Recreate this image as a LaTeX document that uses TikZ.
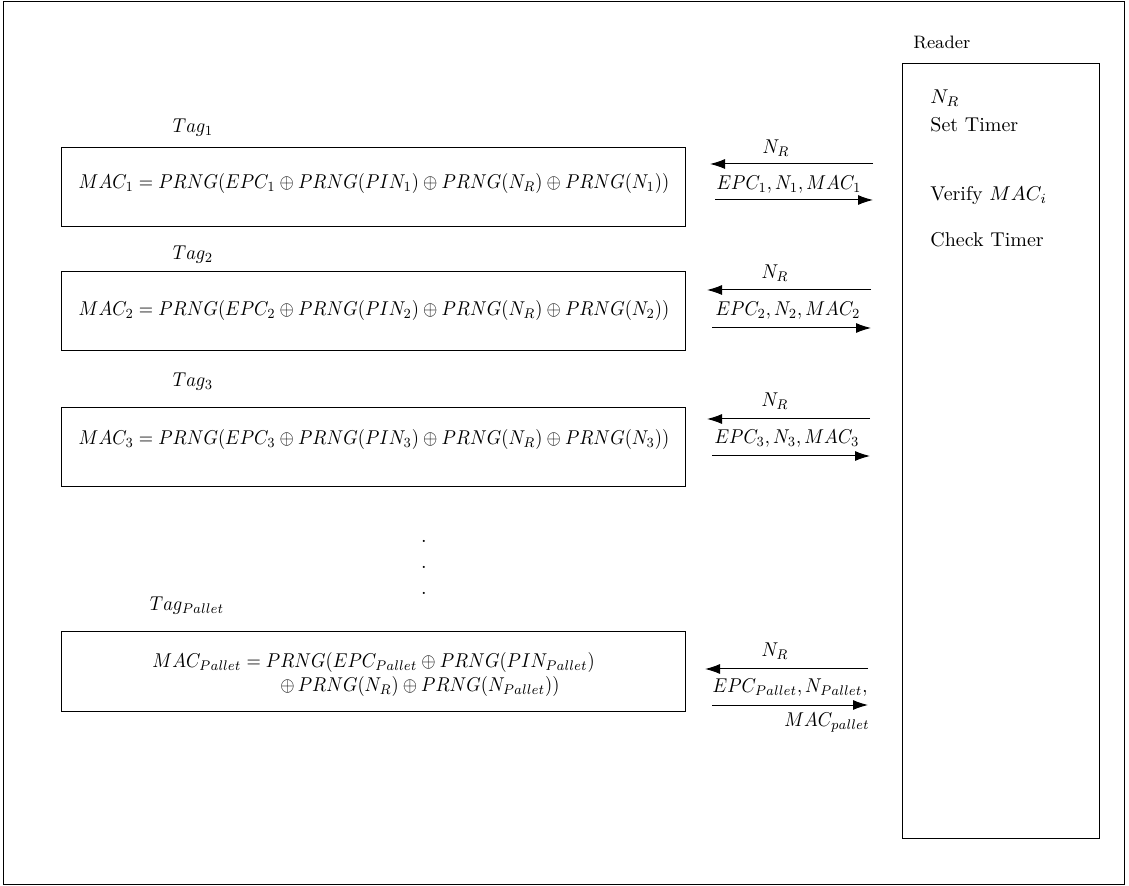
\documentclass[tikz,border=0pt]{standalone}
\usepackage{graphicx}
\usetikzlibrary{arrows.meta}
\newcommand{\nrw}[1]{\scalebox{0.92}[1]{#1}}
\begin{document}
\begin{tikzpicture}[x=0.5pt,y=-0.5pt,
  box/.style={draw,line width=0.5pt},
  msg/.style={draw,line width=0.5pt,-{Latex[length=7.5pt,width=5pt]}},
  lbl/.style={inner sep=0pt},
  mlbl/.style={inner sep=0pt}]
\useasboundingbox (0,0) rectangle (1129,886);
\draw[line width=0.5pt] (3,2) rectangle (1124,884);
% reader
\node[lbl,anchor=west,font=\fontsize{9}{11}\selectfont] (rd) at (913,42) {Reader};
\draw[box] (902,64) rectangle (1099,838);
\node[lbl,anchor=west] (r1) at (930,98) {$N_R$};
\node[lbl,anchor=west] (r2) at (930,125) {Set Timer};
\node[lbl,anchor=west] (r3) at (930,196) {Verify $MAC_i$};
\node[lbl,anchor=west] (r4) at (930,240) {Check Timer};
% tags
\node[mlbl] (t1) at (193,128) {\nrw{$Tag_1$}};
\draw[box] (61,148) rectangle (685,227);
\node[mlbl] (f1) at (374,184) {\nrw{$MAC_1 = PRNG(EPC_1 \oplus PRNG(PIN_1) \oplus PRNG(N_R) \oplus PRNG(N_1))$}};
\node[mlbl] (t2) at (193,255) {\nrw{$Tag_2$}};
\draw[box] (61,272) rectangle (685,351);
\node[mlbl] (f2) at (374,311) {\nrw{$MAC_2 = PRNG(EPC_2 \oplus PRNG(PIN_2) \oplus PRNG(N_R) \oplus PRNG(N_2))$}};
\node[mlbl] (t3) at (193,382) {\nrw{$Tag_3$}};
\draw[box] (61,408) rectangle (685,487);
\node[mlbl] (f3) at (374,440) {\nrw{$MAC_3 = PRNG(EPC_3 \oplus PRNG(PIN_3) \oplus PRNG(N_R) \oplus PRNG(N_3))$}};
\node[lbl] (d1) at (424,541) {.};
\node[lbl] (d2) at (424,567) {.};
\node[lbl] (d3) at (424,593) {.};
\node[mlbl] (t4) at (187,606) {\nrw{$Tag_{Pallet}$}};
\draw[box] (61,632) rectangle (685,711);
\node[mlbl,anchor=west] (f4) at (152,675) {\nrw{\begin{tabular}{@{}l@{}}$MAC_{Pallet} = PRNG(EPC_{Pallet} \oplus PRNG(PIN_{Pallet})$\\ \hspace{69.6pt}$\oplus\, PRNG(N_R) \oplus PRNG(N_{Pallet}))$\end{tabular}}};
% messages
\coordinate (a1s) at (873,164); \coordinate (a1e) at (710,164);
\draw[msg] (a1s) -- (a1e);
\node[mlbl] (n1) at (776,148) {\nrw{$N_R$}};
\coordinate (b1s) at (715,200); \coordinate (b1e) at (873,200);
\draw[msg] (b1s) -- (b1e);
\node[mlbl] (m1) at (789,185) {\nrw{$EPC_1, N_1, MAC_1$}};
\coordinate (a2s) at (871,290); \coordinate (a2e) at (707,290);
\draw[msg] (a2s) -- (a2e);
\node[mlbl] (n2) at (775,273) {\nrw{$N_R$}};
\coordinate (b2s) at (712,328); \coordinate (b2e) at (871,328);
\draw[msg] (b2s) -- (b2e);
\node[mlbl] (m2) at (788,311) {\nrw{$EPC_2, N_2, MAC_2$}};
\coordinate (a3s) at (870,419); \coordinate (a3e) at (707,419);
\draw[msg] (a3s) -- (a3e);
\node[mlbl] (n3) at (775,401) {\nrw{$N_R$}};
\coordinate (b3s) at (712,456); \coordinate (b3e) at (870,456);
\draw[msg] (b3s) -- (b3e);
\node[mlbl] (m3) at (787,439) {\nrw{$EPC_3, N_3, MAC_3$}};
\coordinate (a4s) at (868,669); \coordinate (a4e) at (705,669);
\draw[msg] (a4s) -- (a4e);
\node[mlbl] (n4) at (775,651) {\nrw{$N_R$}};
\coordinate (b4s) at (712,705); \coordinate (b4e) at (868,705);
\draw[msg] (b4s) -- (b4e);
\node[mlbl] (m4) at (790,688) {\nrw{$EPC_{Pallet}, N_{Pallet},$}};
\node[mlbl,anchor=east] (m4b) at (870,723) {\nrw{$MAC_{pallet}$}};
\end{tikzpicture}
\end{document}
